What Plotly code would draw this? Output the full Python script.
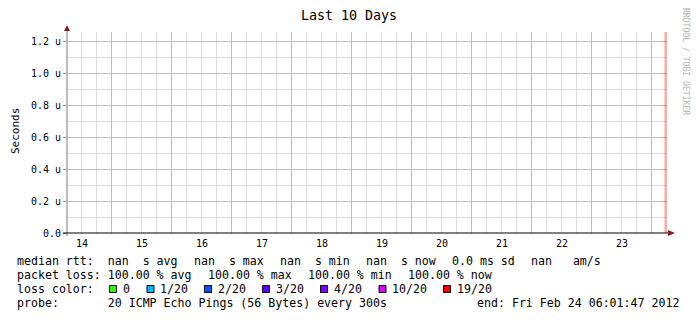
import plotly.graph_objects as go
import pandas as pd

# ---------------- data ----------------
range_start = "2012-02-14 06:01:47"
range_end = "2012-02-24 06:01:47"
median_times = [range_start, range_end]
median_rtt = [None, None]          # all samples are nan
last_loss_time = "2012-02-24 05:30:00"   # last sample: 100 % loss
day_labels = ["14", "15", "16", "17", "18", "19", "20", "21", "22", "23"]
y_tick_vals = [0.0, 0.2e-6, 0.4e-6, 0.6e-6, 0.8e-6, 1.0e-6, 1.2e-6]
y_tick_text = ["0.0", "0.2 u", "0.4 u", "0.6 u", "0.8 u", "1.0 u", "1.2 u"]
y_max = 1.25625e-6
loss_labels = ["0", "1/20", "2/20", "3/20", "4/20", "10/20", "19/20"]
loss_colors = ["#26ff00", "#00b8ff", "#0059ff", "#5e00ff", "#7e00ff", "#dd00ff", "#ff0000"]

title_text = "Last 10 Days"
y_title = "Seconds"
watermark = "RRDTOOL / TOBI OETIKER"
legend_line1 = ["median rtt:  nan  s avg", "nan  s max", "nan  s min", "nan  s now", "0.0 ms sd", "nan   am/s"]
legend_line2 = ["packet loss: 100.00 % avg", "100.00 % max", "100.00 % min", "100.00 % now"]
legend_line3 = "loss color:"
legend_line4 = ["probe:       20 ICMP Echo Pings (56 Bytes) every 300s", "end: Fri Feb 24 06:01:47 2012"]

# ---------------- layout helpers ----------------
W, H = 697, 321
L, R, T, B = 67, 30, 32, 88
PW, PH = W - L - R, H - T - B
MONO = "DejaVu Sans Mono"
CHAR = 7.0
GAP = 16.0


def px(x):
    return (x - L) / PW


def py(y):
    return (T + PH - y) / PH


def nb(s):
    return s.replace(" ", "\u00a0")


day_noons = [pd.Timestamp(f"2012-02-{d} 12:00:00") for d in day_labels]
midnights = list(pd.date_range("2012-02-15", "2012-02-24", freq="D"))

RED_GRID = "#eeaaaa"
GRAY_GRID = "#dedede"

fig = go.Figure()
for xa, ya in (("x", "y"), ("x2", "y2"), ("x3", "y2")):
    fig.add_trace(go.Scatter(x=median_times, y=median_rtt, mode="lines", xaxis=xa, yaxis=ya,
                             line=dict(color="#000000"), showlegend=False, hoverinfo="skip"))

xr = [range_start, range_end]
fig.update_layout(
    template="none",
    width=W, height=H,
    margin=dict(l=L, r=R, t=T, b=B, pad=0),
    paper_bgcolor="white", plot_bgcolor="white",
    showlegend=False,
    # minor (6 h) grid
    xaxis=dict(type="date", range=xr, tickmode="linear", dtick=6 * 3600 * 1000,
               tick0="2012-02-14", showticklabels=False, ticks="",
               showgrid=True, gridcolor=GRAY_GRID, gridwidth=1,
               zeroline=False, showline=False),
    # day labels at noon
    xaxis2=dict(type="date", range=xr, overlaying="x", anchor="y", side="bottom",
                tickmode="array", tickvals=day_noons, ticktext=day_labels,
                showgrid=False, zeroline=False, showline=False, ticks="",
                ticklabelstandoff=3,
                tickfont=dict(family=MONO, size=10, color="#000000")),
    # major (midnight) grid
    xaxis3=dict(type="date", range=xr, overlaying="x", anchor="y", side="bottom",
                tickmode="array", tickvals=midnights, showticklabels=False, ticks="",
                showgrid=True, gridcolor=RED_GRID, gridwidth=1,
                zeroline=False, showline=False),
    # minor (0.1 u) grid
    yaxis=dict(range=[0, y_max], tickmode="linear", dtick=0.1e-6, tick0=0,
               showticklabels=False, ticks="", showgrid=True, gridcolor=GRAY_GRID,
               gridwidth=1, zeroline=False, showline=False),
    # major (0.2 u) grid with labels
    yaxis2=dict(range=[0, y_max], overlaying="y", anchor="x", side="left",
                tickmode="array", tickvals=y_tick_vals, ticktext=y_tick_text,
                showgrid=True, gridcolor=RED_GRID, gridwidth=1, zeroline=False,
                showline=False, ticks="outside", ticklen=3, tickcolor="#dd7777",
                tickfont=dict(family=MONO, size=10, color="#000000")),
)

shapes = []
# last-sample loss stripe
shapes.append(dict(type="line", xref="x", yref="paper", x0=last_loss_time, x1=last_loss_time,
                   y0=0, y1=1, line=dict(color="rgba(255,0,0,0.35)", width=2.5), layer="above"))
# axes lines and arrows
shapes.append(dict(type="line", xref="paper", yref="paper", x0=px(67), x1=px(67),
                   y0=py(236), y1=py(29), line=dict(color="#7a7a7a", width=1), layer="above"))
shapes.append(dict(type="line", xref="paper", yref="paper", x0=px(63), x1=px(670),
                   y0=py(233), y1=py(233), line=dict(color="#000000", width=1), layer="above"))
shapes.append(dict(type="path", xref="paper", yref="paper",
                   path=f"M {px(67)},{py(25)} L {px(64)},{py(31)} L {px(70)},{py(31)} Z",
                   fillcolor="#801f1f", line=dict(width=0), layer="above"))
shapes.append(dict(type="path", xref="paper", yref="paper",
                   path=f"M {px(675)},{py(233)} L {px(668)},{py(230)} L {px(668)},{py(236)} Z",
                   fillcolor="#801f1f", line=dict(width=0), layer="above"))

annotations = []


def text(x, y, s, size=11.6, anchor="left", color="#000000", angle=0, yanchor="middle"):
    annotations.append(dict(x=px(x), y=py(y), xref="paper", yref="paper", text=nb(s),
                            showarrow=False, xanchor=anchor, yanchor=yanchor,
                            borderpad=0, borderwidth=0, textangle=angle,
                            font=dict(family=MONO, size=size, color=color)))


# title, axis title, watermark
text(348.5, 15, title_text, size=13.3, anchor="center")
text(15, 131, y_title, size=11, anchor="center", angle=-90)
text(686, 61, watermark, size=8.1, anchor="center", color="#b4b4b4", angle=90)

# legend line 1
x = 17.0
for s in legend_line1:
    text(x, 261, s)
    x += len(s) * CHAR + GAP
# legend line 2
x = 17.0
for s in legend_line2:
    text(x, 275, s)
    x += len(s) * CHAR + GAP
# legend line 3
text(17, 289, legend_line3)
box_x = [109.5, 147, 204.5, 262.5, 320.5, 379, 443.5]
for bx, lab, col in zip(box_x, loss_labels, loss_colors):
    shapes.append(dict(type="rect", xref="paper", yref="paper",
                       x0=px(bx), x1=px(bx + 7), y0=py(292.5), y1=py(285.5),
                       fillcolor=col, line=dict(color="#000000", width=1), layer="above"))
    text(bx + 13, 289, lab)
# legend line 4
text(17, 303, legend_line4[0])
text(477, 303, legend_line4[1])

fig.update_layout(shapes=shapes, annotations=annotations)
fig.write_html("out.html")
